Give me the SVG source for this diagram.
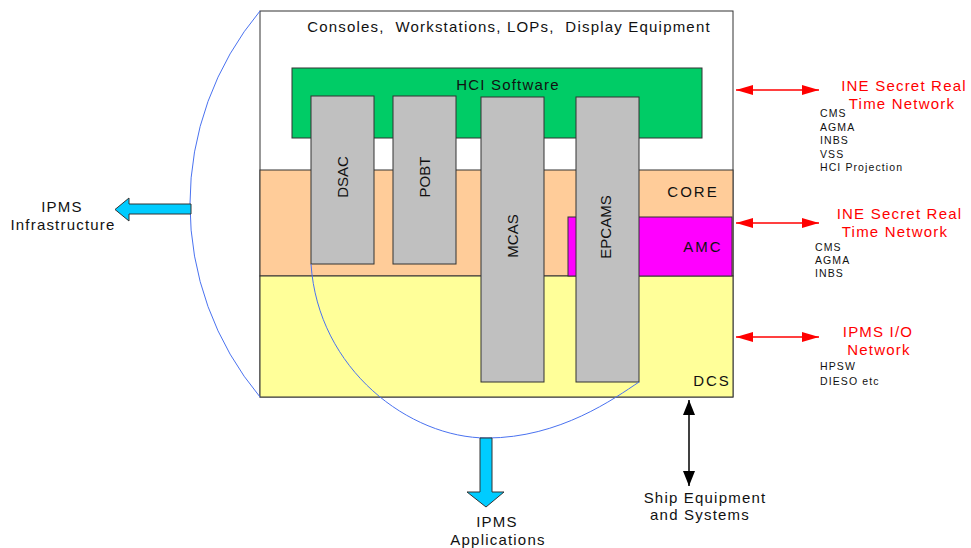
<svg xmlns="http://www.w3.org/2000/svg" width="971" height="548" viewBox="0 0 971 548">
<style>
text{font-family:"Liberation Sans",Arial,sans-serif;fill:#111}
.l{font-size:15px;letter-spacing:1.2px}
.pre{white-space:pre}
.w{font-size:15px;letter-spacing:2px}
.g{font-size:15px}
.s{font-size:10.5px;letter-spacing:1.1px}
.r{font-size:15px;letter-spacing:1.2px;fill:#ff0000}
.box{stroke:#333;stroke-width:1}
.arc{fill:none;stroke:#4a72f0;stroke-width:1}
.red{stroke:#ff0000;stroke-width:1.5;fill:none}
.blk{stroke:#000;stroke-width:1.5;fill:none}
.fat{fill:#00ccff;stroke:#333;stroke-width:1}
</style>
<defs>
<marker id="rh" markerUnits="userSpaceOnUse" markerWidth="18" markerHeight="12" refX="17" refY="6" orient="auto-start-reverse" viewBox="0 0 18 12"><path d="M0,1 L17,6 L0,11 Z" fill="#ff0000"/></marker>
<marker id="bh" markerUnits="userSpaceOnUse" markerWidth="16" markerHeight="13" refX="15" refY="6.5" orient="auto-start-reverse" viewBox="0 0 16 13"><path d="M0,0.5 L15,6.5 L0,12.5 Z" fill="#000"/></marker>
</defs>
<rect width="971" height="548" fill="#fff"/>
<g id="consoles">
<rect class="box" x="260" y="11" width="473" height="386" fill="#fff"/>
<text class="l pre" x="509" y="32" text-anchor="middle" xml:space="preserve">Consoles,  Workstations, LOPs,  Display Equipment</text>
</g>
<g id="core">
<rect class="box" x="260" y="170" width="473" height="106" fill="#ffcc99"/>
<text class="w" x="693" y="196.5" text-anchor="middle">CORE</text>
</g>
<g id="dcs">
<rect class="box" x="260" y="276" width="473" height="121" fill="#ffff99"/>
<text class="w" x="712" y="385.5" text-anchor="middle">DCS</text>
</g>
<g id="amc">
<rect class="box" x="568" y="217" width="164" height="59" fill="#ff00ff"/>
<text class="w" x="703" y="251.5" text-anchor="middle">AMC</text>
</g>
<g id="hci">
<rect class="box" x="292" y="68" width="410" height="70" fill="#00cc66"/>
<text class="l" x="508" y="89.5" text-anchor="middle">HCI Software</text>
</g>
<g id="dsac">
<rect class="box" x="311" y="96" width="63" height="168" fill="#c0c0c0"/>
<text class="g" transform="translate(348,177) rotate(-90)" text-anchor="middle">DSAC</text>
</g>
<g id="pobt">
<rect class="box" x="393" y="96" width="63" height="168" fill="#c0c0c0"/>
<text class="g" transform="translate(430,177) rotate(-90)" text-anchor="middle">POBT</text>
</g>
<g id="mcas">
<rect class="box" x="481" y="97" width="63" height="285" fill="#c0c0c0"/>
<text class="g" transform="translate(518,236) rotate(-90)" text-anchor="middle">MCAS</text>
</g>
<g id="epcams">
<rect class="box" x="576" y="97" width="63" height="285" fill="#c0c0c0"/>
<text class="g" transform="translate(611,227) rotate(-90)" text-anchor="middle">EPCAMS</text>
</g>
<g id="connectors">
<path class="arc" d="M260,11 A301,301 0 0 0 260,397"/>
<path class="arc" d="M311,264 C318,370 410,438 487,438 C560,438 615,398 639,382"/>
<line class="red" x1="736" y1="90" x2="819" y2="90" marker-start="url(#rh)" marker-end="url(#rh)"/>
<line class="red" x1="736" y1="223" x2="819" y2="223" marker-start="url(#rh)" marker-end="url(#rh)"/>
<line class="red" x1="736" y1="337" x2="819" y2="337" marker-start="url(#rh)" marker-end="url(#rh)"/>
<line class="blk" x1="689" y1="400" x2="689" y2="486" marker-start="url(#bh)" marker-end="url(#bh)"/>
<path class="fat" d="M191,204 L129,204 L129,198 L115,209.5 L129,221 L129,214 L191,214 Z"/>
<path class="fat" d="M480,438 L480,492 L467,492 L486,507 L504,492 L492,492 L492,438 Z"/>
</g>
<g id="net1">
<text class="r" x="904" y="90.5" text-anchor="middle">INE Secret Real</text>
<text class="r" x="902" y="108.5" text-anchor="middle">Time Network</text>
<text class="s" x="820" y="116.5">CMS</text>
<text class="s" x="820" y="131">AGMA</text>
<text class="s" x="820" y="144">INBS</text>
<text class="s" x="820" y="158">VSS</text>
<text class="s" x="820" y="171">HCI Projection</text>
</g>
<g id="net2">
<text class="r" x="899.5" y="218.5" text-anchor="middle">INE Secret Real</text>
<text class="r" x="895" y="236.5" text-anchor="middle">Time Network</text>
<text class="s" x="815" y="250.5">CMS</text>
<text class="s" x="815" y="264">AGMA</text>
<text class="s" x="815" y="277">INBS</text>
</g>
<g id="net3">
<text class="r" x="878" y="336.5" text-anchor="middle">IPMS I/O</text>
<text class="r" x="879" y="354.5" text-anchor="middle">Network</text>
<text class="s" x="820" y="369.5">HPSW</text>
<text class="s" x="820" y="385">DIESO etc</text>
</g>
<g id="infra">
<text class="l" x="62" y="211.5" text-anchor="middle">IPMS</text>
<text class="l" x="63" y="229.5" text-anchor="middle">Infrastructure</text>
</g>
<g id="apps">
<text class="l" x="497" y="526.5" text-anchor="middle">IPMS</text>
<text class="l" x="498" y="545" text-anchor="middle">Applications</text>
</g>
<g id="ship">
<text class="l" x="705" y="502.5" text-anchor="middle">Ship Equipment</text>
<text class="l" x="700" y="520" text-anchor="middle">and Systems</text>
</g>
</svg>
